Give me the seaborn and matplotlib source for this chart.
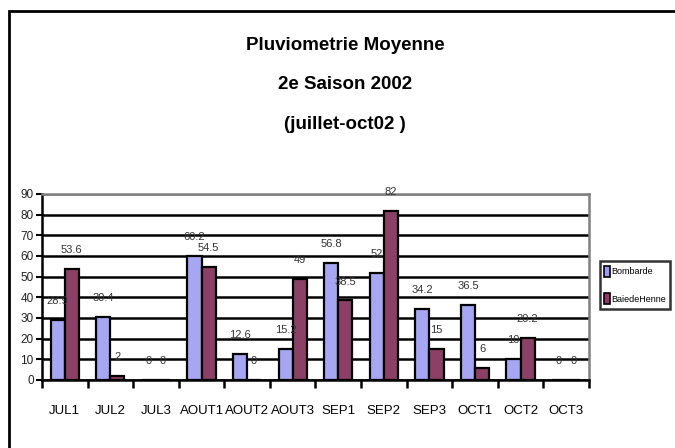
import matplotlib
matplotlib.use('Agg')
import matplotlib.pyplot as plt
import matplotlib.patches as mpatches
import pandas as pd
import seaborn as sns

# donnees
periodes = ['JUL1', 'JUL2', 'JUL3', 'AOUT1', 'AOUT2', 'AOUT3',
            'SEP1', 'SEP2', 'SEP3', 'OCT1', 'OCT2', 'OCT3']
stations = ['Bombarde', 'BaiedeHenne']
bombarde = [28.9, 30.4, 0, 60.2, 12.6, 15.2, 56.8, 52, 34.2, 36.5, 10, 0]
baie_de_henne = [53.6, 2, 0, 54.5, 0, 49, 38.5, 82, 15, 6, 20.2, 0]
y_ticks = [0, 10, 20, 30, 40, 50, 60, 70, 80, 90]
couleurs = ['#9999FF', '#993366']

df = pd.DataFrame({
    'periode': periodes * 2,
    'pluie': bombarde + baie_de_henne,
    'station': [stations[0]] * len(periodes) + [stations[1]] * len(periodes),
})

sns.set_style('white')
plt.rcParams['font.family'] = ['Liberation Sans', 'DejaVu Sans']
plt.rcParams['text.color'] = 'black'
plt.rcParams['xtick.color'] = 'black'
plt.rcParams['ytick.color'] = 'black'

fig = plt.figure(figsize=(6.75, 4.48), dpi=100)
ax = fig.add_axes([0.0622, 0.1518, 0.8104, 0.4152])

sns.barplot(data=df, x='periode', y='pluie', hue='station', order=periodes,
            hue_order=stations, palette=couleurs, width=0.62, gap=0,
            edgecolor='black', linewidth=1.6, ax=ax, legend=False)

# etiquettes de valeurs au-dessus des barres
for cont, vals in zip(ax.containers, [bombarde, baie_de_henne]):
    ax.bar_label(cont, labels=[f'{v:g}' for v in vals], padding=10,
                 fontsize=8, color='#333333')

ax.set_ylim(0, 90)
ax.set_xlim(-0.5, len(periodes) - 0.5)
ax.set_yticks(y_ticks)
ax.yaxis.grid(True, color='black', linewidth=1.8)
ax.get_ygridlines()[-1].set_color('#808080')
ax.set_axisbelow(True)
ax.set_xlabel('')
ax.set_ylabel('')

for s in ['top', 'right']:
    ax.spines[s].set_color('#808080')
    ax.spines[s].set_linewidth(1.8)
for s in ['left', 'bottom']:
    ax.spines[s].set_color('black')
    ax.spines[s].set_linewidth(1.8)

ax.tick_params(axis='y', direction='out', length=4, width=1.5, labelsize=8.5,
               pad=2, left=True, colors='black', labelcolor='#222222')
ax.tick_params(axis='x', which='major', length=0, labelsize=9.5, pad=18,
               labelcolor='black')
ax.set_xticks([i - 0.5 for i in range(len(periodes) + 1)], minor=True)
ax.tick_params(axis='x', which='minor', direction='out', length=6, width=1.8,
               bottom=True, color='black')

# titre sur trois lignes
for y, txt in [(0.899, 'Pluviometrie Moyenne'), (0.812, '2e Saison 2002'),
               (0.721, '(juillet-oct02 )')]:
    fig.text(0.511, y, txt, ha='center', va='center', fontsize=13.5,
             fontweight='bold', color='black')

# legende
handles = [mpatches.Patch(facecolor=c, edgecolor='black', linewidth=1.2, label=s)
           for c, s in zip(couleurs, stations)]
leg = fig.legend(handles=handles, loc='center', bbox_to_anchor=(0.9407, 0.364),
                 fontsize=6.5, frameon=True, fancybox=False, handlelength=0.6,
                 handleheight=1.5, handletextpad=0.15, labelspacing=1.8,
                 borderpad=0.5, borderaxespad=0)
leg.get_frame().set_edgecolor('black')
leg.get_frame().set_linewidth(1.8)
for t in leg.get_texts():
    t.set_color('black')

# cadre exterieur
fig.patches.append(mpatches.Rectangle((9 / 675, -0.05), 1.1, 1 - 11 / 448 + 0.05,
                                      transform=fig.transFigure, fill=False,
                                      edgecolor='black', linewidth=2))

fig.savefig('out.png', dpi=100)
